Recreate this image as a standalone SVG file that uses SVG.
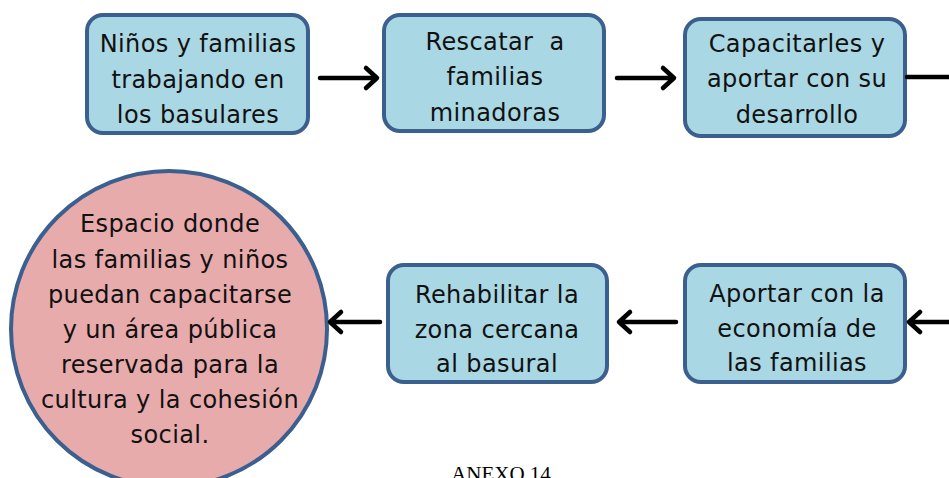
<svg xmlns="http://www.w3.org/2000/svg" width="949" height="478" viewBox="0 0 949 478">
<style>
.box{fill:#a9d7e3;stroke:#3b5f8f;stroke-width:4}
.circ{fill:#e8abac;stroke:#3b5f8f;stroke-width:4}
.t{font-family:"DejaVu Sans",sans-serif;font-size:24px;fill:#111;text-anchor:middle;letter-spacing:0.4px}
.c{fill:none;stroke:#000;stroke-width:4.5;stroke-linecap:round;stroke-linejoin:round}
.an{font-family:"Liberation Serif",serif;font-size:21px;fill:#000;text-anchor:middle}
</style>
<rect width="949" height="478" fill="#fff"/>
<g id="n1">
<rect class="box" x="87" y="15" width="221" height="118" rx="16"/>
<text class="t" x="198" y="52">Niños y familias</text>
<text class="t" x="198" y="88">trabajando en</text>
<text class="t" x="198" y="123">los basulares</text>
</g>
<g id="n2">
<rect class="box" x="384" y="15" width="220" height="116" rx="16"/>
<text class="t" x="495" y="50" xml:space="preserve">Rescatar  a</text>
<text class="t" x="495" y="85">familias</text>
<text class="t" x="495" y="121">minadoras</text>
</g>
<g id="n3">
<rect class="box" x="685" y="19" width="220" height="117" rx="16"/>
<text class="t" x="797" y="52">Capacitarles y</text>
<text class="t" x="797" y="87">aportar con su</text>
<text class="t" x="797" y="123">desarrollo</text>
</g>
<g id="n4">
<rect class="box" x="685" y="265" width="220" height="117" rx="16"/>
<text class="t" x="797" y="302">Aportar con la</text>
<text class="t" x="797" y="337">economía de</text>
<text class="t" x="797" y="371">las familias</text>
</g>
<g id="n5">
<rect class="box" x="388" y="265" width="219" height="117" rx="16"/>
<text class="t" x="497" y="303">Rehabilitar la</text>
<text class="t" x="497" y="338">zona cercana</text>
<text class="t" x="497" y="372">al basural</text>
</g>
<g id="n6">
<circle class="circ" cx="169" cy="329" r="158"/>
<text class="t" x="170" y="232">Espacio donde</text>
<text class="t" x="170" y="268">las familias y niños</text>
<text class="t" x="170" y="303">puedan capacitarse</text>
<text class="t" x="170" y="338">y un área pública</text>
<text class="t" x="170" y="373">reservada para la</text>
<text class="t" x="170" y="408">cultura y la cohesión</text>
<text class="t" x="170" y="443">social.</text>
</g>
<g id="connectors">
<path class="c" d="M320 78 H376 M366 68 L377 78 L366 88"/>
<path class="c" d="M617 78 H673 M663 68 L674 78 L663 88"/>
<path class="c" d="M907 77 H949"/>
<path class="c" d="M949 322 H910 M920 312 L909 322 L920 332"/>
<path class="c" d="M676 322 H620 M630 312 L619 322 L630 332"/>
<path class="c" d="M380 322 H331 M341 312 L330 322 L341 332"/>
</g>
<text class="an" x="501" y="481">ANEXO 14</text>
</svg>
